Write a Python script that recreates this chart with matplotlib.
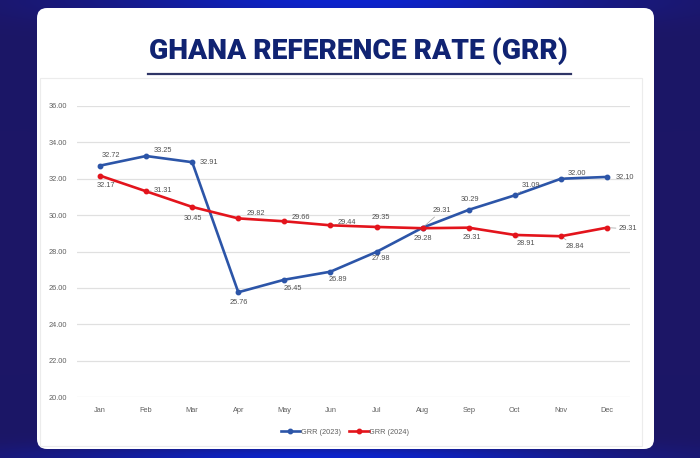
import numpy as np
import matplotlib
matplotlib.use("Agg")
import matplotlib.pyplot as plt
from matplotlib.patches import FancyBboxPatch, Rectangle

# ---- data ----
months = ["Jan", "Feb", "Mar", "Apr", "May", "Jun", "Jul", "Aug", "Sep", "Oct", "Nov", "Dec"]
grr_2023 = [32.72, 33.25, 32.91, 25.76, 26.45, 26.89, 27.98, 29.31, 30.29, 31.09, 32.00, 32.10]
grr_2024 = [32.17, 31.31, 30.45, 29.82, 29.66, 29.44, 29.35, 29.28, 29.31, 28.91, 28.84, 29.31]
labels_2023 = ["32.72", "33.25", "32.91", "25.76", "26.45", "26.89", "27.98", "29.31", "30.29", "31.09", "32.00", "32.10"]
labels_2024 = ["32.17", "31.31", "30.45", "29.82", "29.66", "29.44", "29.35", "29.28", "29.31", "28.91", "28.84", "29.31"]
series_names = ["GRR (2023)", "GRR (2024)"]
title = "GHANA REFERENCE RATE (GRR)"
yticks = [20, 22, 24, 26, 28, 30, 32, 34, 36]

# label offsets (pixels: dx, dy up positive), leader flag
off_2023 = [(11, 10, 0), (17, 6, 0), (17, 0, 0), (1, -10, 0), (8, -9, 0), (7, -8, 0),
            (4, -7, 0), (19, 17, 1), (1, 10, 0), (16, 10, 1), (16, 5, 1), (18, -1, 0)]
off_2024 = [(6, -10, 0), (17, 1, 1), (1, -12, 0), (18, 5, 0), (16, 4, 1), (16, 3, 1),
            (4, 9, 0), (0, -10, 0), (3, -10, 0), (11, -9, 1), (14, -10, 1), (21, -1, 1)]

W, H, DPI = 700, 458, 100
fig = plt.figure(figsize=(W / DPI, H / DPI), dpi=DPI)

# ---- background gradient ----
bg = fig.add_axes([0, 0, 1, 1], zorder=-10)
yy, xx = np.mgrid[0:H, 0:W]
base = np.array([28, 22, 102]) / 255.0
glow = np.array([12, 36, 205]) / 255.0
g_top = np.exp(-(((xx - 350) / 230.0) ** 2 + ((yy - 0) / 22.0) ** 2))
g_bot = np.exp(-(((xx - 330) / 260.0) ** 2 + ((yy - H) / 14.0) ** 2))
g = np.clip(g_top + g_bot, 0, 1)[..., None]
img = base * (1 - g) + glow * g
bg.imshow(img, aspect="auto", extent=[0, W, H, 0])
bg.set_xlim(0, W)
bg.set_ylim(H, 0)
bg.axis("off")

# ---- white card ----
card = FancyBboxPatch((0.37 + 0.08, 0.09 + 0.08), 6.17 - 0.16, 4.41 - 0.16,
                      boxstyle="round,pad=0.08,rounding_size=0.1",
                      transform=fig.dpi_scale_trans, facecolor="white",
                      edgecolor="none", zorder=-5)
fig.patches.append(card)
# faint inner chart frame
frame = Rectangle((0.40, 0.12), 6.02, 3.68, transform=fig.dpi_scale_trans,
                  facecolor="none", edgecolor="#ececec", lw=0.8, zorder=-4)
fig.patches.append(frame)

# ---- title ----
t = fig.text(358 / W, 1 - 51 / H, title, ha="center", va="center",
             fontsize=22, fontweight="heavy", color="#102372",
             family=["Roboto", "DejaVu Sans"])
fig.canvas.draw()
bb = t.get_window_extent()
t.set_fontsize(22 * 420.0 / bb.width)
fig.add_artist(plt.Line2D([148 / W, 571 / W], [1 - 74 / H, 1 - 74 / H],
                          color="#2e3566", lw=1.6, transform=fig.transFigure))

# ---- chart ----
ax = fig.add_axes([77 / W, 1 - 397 / H, (630 - 77) / W, (397 - 106) / H])
ax.set_facecolor("none")
x = np.arange(len(months))
blue = "#2c55a8"
red = "#e3141c"
ax.plot(x, grr_2023, color=blue, lw=1.9, marker="o", ms=3.2, label=series_names[0], zorder=3)
ax.plot(x, grr_2024, color=red, lw=1.9, marker="o", ms=3.2, label=series_names[1], zorder=3)

ax.set_xlim(-0.5, 11.5)
ax.set_ylim(20, 36)
ax.set_yticks(yticks)
ax.set_yticklabels([f"{v:.2f}" for v in yticks])
ax.set_xticks(x)
ax.set_xticklabels(months)
ax.grid(axis="y", color="#e0e0e0", lw=0.9)
ax.set_axisbelow(True)
for s in ax.spines.values():
    s.set_visible(False)
ax.tick_params(length=0, labelsize=5.3, colors="#606060")
ax.tick_params(axis="y", pad=7)
ax.tick_params(axis="x", pad=7)
for lab in ax.get_xticklabels() + ax.get_yticklabels():
    lab.set_family("Liberation Sans")

px = 72.0 / DPI
for vals, labs, offs in ((grr_2023, labels_2023, off_2023), (grr_2024, labels_2024, off_2024)):
    for i, (v, lab, (dx, dy, lead)) in enumerate(zip(vals, labs, offs)):
        kw = {}
        if lead:
            kw["arrowprops"] = dict(arrowstyle="-", color="#a0a0a0", lw=0.5,
                                    shrinkA=0, shrinkB=2.5)
        ax.annotate(lab, (i, v), xytext=(dx * px, dy * px), textcoords="offset points",
                    ha="center", va="center", fontsize=5.3, color="#505050",
                    family="Liberation Sans", zorder=4, **kw)

leg = fig.legend(loc="center", bbox_to_anchor=(345 / W, 1 - 432 / H), ncol=2,
                 frameon=False, handlelength=2.6, columnspacing=1.2,
                 handletextpad=0.1, prop={"family": "Liberation Sans", "size": 5.3})
for txt in leg.get_texts():
    txt.set_color("#606060")

fig.savefig("out.png", dpi=DPI)
